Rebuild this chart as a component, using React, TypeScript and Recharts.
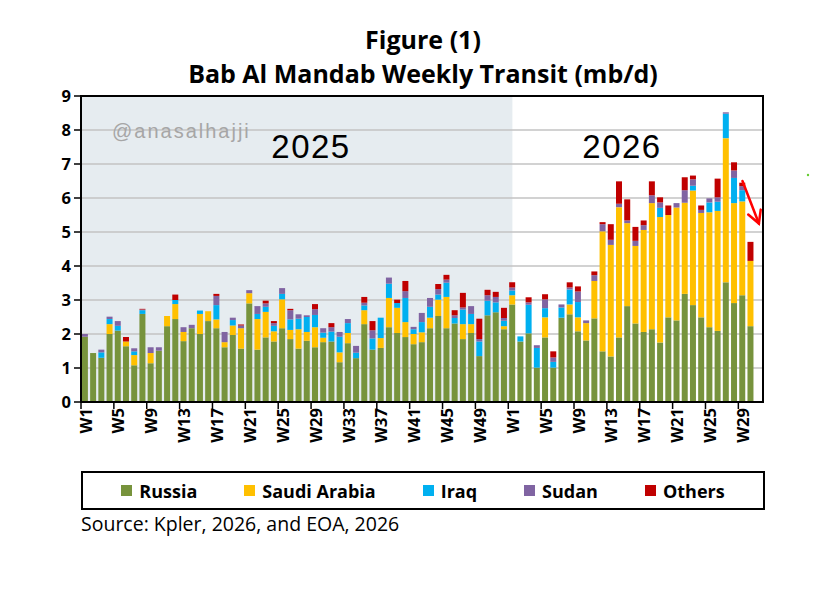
import React from "react";
import {
  BarChart,
  Bar,
  XAxis,
  YAxis,
  CartesianGrid,
  ReferenceArea,
  ReferenceLine,
} from "recharts";

// weeks: 2025 W1..W52, then 2026 W1..W31 (last slot empty)
const weeks2025 = Array.from({ length: 52 }, (_, i) => `2025-W${i + 1}`);
const weeks2026 = Array.from({ length: 31 }, (_, i) => `2026-W${i + 1}`);
const weeks = [...weeks2025, ...weeks2026];

// mb/d by origin
const russia = [
  1.92, 1.44, 1.3, 2.0, 2.1, 1.64, 1.08, 2.59, 1.14, 1.51, 2.23, 2.44, 1.79,
  2.17, 2.0, 2.38, 2.17, 1.61, 1.97, 1.57, 2.9, 1.54, 1.9, 1.78, 2.17, 1.85,
  1.57, 1.8, 1.61, 1.76, 1.78, 1.17, 1.73, 1.29, 2.29, 1.54, 1.59, 2.2, 2.03,
  1.91, 1.7, 1.76, 2.17, 2.53, 2.17, 2.31, 1.85, 2.03, 1.35, 2.55, 2.64, 2.14,
  2.87, 1.78, 2.02, 1.01, 1.9, 1.01, 2.48, 2.58, 2.08, 1.81, 2.46, 1.49, 1.34,
  1.9, 2.82, 2.31, 2.06, 2.14, 1.75, 2.49, 2.4, 3.18, 2.85, 2.49, 2.2, 2.09,
  3.52, 2.91, 3.14, 2.23, null,
];
const saudi = [
  0, 0, 0, 0.29, 0, 0.14, 0.3, 0, 0.3, 0, 0.3, 0.44, 0.27, 0, 0.59, 0.29, 0.26,
  0.15, 0.28, 0.6, 0.3, 0.9, 0.75, 0.3, 0.85, 0.27, 0.57, 0.26, 0.59, 0.13, 0,
  0.29, 0.3, 0, 0.41, 0, 0.29, 0.86, 0.74, 0.44, 0.3, 0.29, 0.31, 0.48, 0.92, 0,
  0.44, 0.26, 0, 0, 0, 0.09,
  0.27, 0, 0, 0, 0.59, 0, 0, 0.29, 0.41, 0.51, 1.1, 3.53, 3.28, 3.83, 2.44,
  2.28, 3.0, 3.71, 3.69, 3.01, 3.32, 2.68, 3.37, 3.07, 3.38, 3.53, 4.24, 2.94,
  2.76, 1.92, null,
];
const iraq = [
  0, 0, 0.16, 0.15, 0.14, 0, 0.11, 0.11, 0, 0, 0, 0.12, 0, 0, 0.1, 0, 0.42, 0,
  0.16, 0, 0, 0.15, 0.15, 0.16, 0.16, 0.31, 0.31, 0.44, 0.36, 0.15, 0.29, 0.46,
  0.29, 0.16, 0.14, 0.33, 0.6, 0.42, 0.14, 0.71, 0.14, 0.3, 0.32, 0.15, 0.42,
  0.16, 0.43, 0.3, 0.43, 0.43, 0.29, 0.16,
  0.14, 0.15, 0.84, 0.58, 0.27, 0.17, 0.3, 0.44, 0.45, 0, 0, 0, 0, 0, 0, 0, 0,
  0, 0.27, 0, 0, 0, 0.14, 0, 0.29, 0.27, 0.72, 0.74, 0.33, 0, null,
];
const sudan = [
  0.08, 0, 0.08, 0.07, 0.14, 0, 0.09, 0.02, 0.17, 0.1, 0, 0, 0.14, 0.1, 0, 0,
  0.27, 0.3, 0.07, 0.08, 0.09, 0.23, 0.1, 0.08, 0.17, 0.27, 0.13, 0.05, 0.17,
  0.13, 0.13, 0.14, 0.12, 0.2, 0.08, 0.24, 0, 0.18, 0, 0.2, 0.07, 0.27, 0.26,
  0.16, 0.09, 0.08, 0.06, 0.23, 0.07, 0.16, 0.16, 0.08,
  0.09, 0, 0.07, 0.08, 0.26, 0.13, 0.09, 0.06, 0.31, 0.08, 0.17, 0.21, 0.15,
  0.1, 0.08, 0.15, 0.14, 0.23, 0.16, 0, 0.13, 0.37, 0.19, 0.09, 0.12, 0.13,
  0.04, 0.22, 0.12, 0, null,
];
const others = [
  0, 0, 0, 0, 0, 0.13, 0, 0.02, 0, 0, 0, 0.16, 0, 0, 0, 0, 0.06, 0, 0, 0.03, 0,
  0, 0.08, 0.06, 0, 0.04, 0, 0, 0.15, 0, 0.12, 0, 0, 0, 0.17, 0.27, 0, 0, 0.1,
  0.3, 0, 0, 0, 0.15, 0.14, 0.15, 0.43, 0, 0.6, 0.16, 0.15, 0.3,
  0.15, 0, 0.15, 0, 0.15, 0.18, 0, 0.15, 0.15, 0, 0.11, 0.06, 0.46, 0.66, 0.62,
  0.41, 0.14, 0.41, 0.15, 0.28, 0, 0.38, 0.11, 0.13, 0, 0.55, 0, 0.24, 0.1,
  0.56, null,
];

const yTicks = [0, 1, 2, 3, 4, 5, 6, 7, 8, 9];

const series = [
  { key: "russia", name: "Russia", color: "#77933C" },
  { key: "saudi", name: "Saudi Arabia", color: "#FFC000" },
  { key: "iraq", name: "Iraq", color: "#00B0F0" },
  { key: "sudan", name: "Sudan", color: "#8064A2" },
  { key: "others", name: "Others", color: "#C00000" },
];

const data = weeks.map((week, i) => ({
  week,
  russia: russia[i],
  saudi: saudi[i],
  iraq: iraq[i],
  sudan: sudan[i],
  others: others[i],
}));

const W = 831;
const H = 460;
const M = { top: 96, right: 68, bottom: 3, left: 31 };
const Y_W = 50;
const X_H = 55;
const BAND = (W - M.left - Y_W - M.right) / weeks.length;

const SANS = "'Open Sans', 'Noto Sans', sans-serif";
const ARIAL = "'Liberation Sans', Arial, sans-serif";

const WeekTick = (props: any) => {
  const { x, y, payload } = props;
  const label = String(payload.value).split("-")[1];
  const lx = x - BAND / 2;
  return (
    <g>
      <line x1={lx} x2={lx} y1={y} y2={y + 7} stroke="#000" strokeWidth={1.5} />
      <text
        x={x}
        y={y + 6}
        transform={`rotate(-90 ${x} ${y + 6})`}
        textAnchor="end"
        dominantBaseline="central"
        fontFamily={SANS}
        fontWeight={700}
        fontSize={16.5}
        fill="#000"
      >
        {label}
      </text>
    </g>
  );
};

// shaded 2025 block runs to the middle of 2026 W1
const Shade = (p: any) => (
  <rect x={p.x} y={p.y} width={p.width + BAND / 2} height={p.height} fill="#E6ECF0" />
);

const Arrow = (p: any) => {
  const { x1, y1, x2, y2 } = p;
  const a = Math.atan2(y2 - y1, x2 - x1);
  const L = 14;
  const s = 0.5;
  const h1 = `${x2 - L * Math.cos(a - s)},${y2 - L * Math.sin(a - s)}`;
  const h2 = `${x2 - L * Math.cos(a + s)},${y2 - L * Math.sin(a + s)}`;
  return (
    <g stroke="#FF0000" strokeWidth={2.5} fill="none" strokeLinecap="round">
      <line x1={x1} y1={y1} x2={x2} y2={y2} />
      <polyline points={`${h1} ${x2},${y2} ${h2}`} />
    </g>
  );
};

export default function App() {
  return (
    <div
      style={{
        position: "absolute",
        left: 0,
        top: 0,
        width: 831,
        height: 598,
        background: "#fff",
      }}
    >
      <BarChart width={W} height={H} data={data} margin={M} barCategoryGap="11%">
        <ReferenceArea
          x1="2025-W1"
          x2="2025-W52"
          y1={0}
          y2={9}
          shape={Shade}
          zIndex={-200}
        />
        <CartesianGrid vertical={false} stroke="#C3C3C3" strokeWidth={1.5} />
        <XAxis
          dataKey="week"
          interval={3}
          tick={<WeekTick />}
          tickLine={false}
          tickSize={0}
          tickMargin={0}
          height={X_H}
          axisLine={{ stroke: "#000", strokeWidth: 2 }}
        />
        <YAxis
          width={Y_W}
          domain={[0, 9]}
          ticks={yTicks}
          interval={0}
          tickSize={7}
          tickMargin={3}
          axisLine={{ stroke: "#000", strokeWidth: 2 }}
          tickLine={{ stroke: "#000", strokeWidth: 1.5 }}
          tick={{ fontFamily: SANS, fontWeight: 700, fontSize: 16.5, fill: "#000" }}
        />
        {series.map((s) => (
          <Bar
            key={s.key}
            dataKey={s.key}
            name={s.name}
            stackId="a"
            fill={s.color}
            isAnimationActive={false}
          />
        ))}
        <ReferenceLine
          segment={[
            { x: "2026-W29", y: 6.5 },
            { x: "2026-W31", y: 5.25 },
          ]}
          shape={Arrow}
          zIndex={1000}
        />
        <ReferenceArea
          y1={0}
          y2={9}
          fill="none"
          fillOpacity={0}
          stroke="#000"
          strokeWidth={2}
          zIndex={1000}
        />
      </BarChart>

      <svg
        width={831}
        height={598}
        style={{ position: "absolute", left: 0, top: 0, pointerEvents: "none" }}
      >
        <text x={423} y={49} textAnchor="middle" fontFamily={SANS} fontWeight={700} fontSize={25}>
          Figure (1)
        </text>
        <text x={423} y={83} textAnchor="middle" fontFamily={SANS} fontWeight={700} fontSize={25}>
          Bab Al Mandab Weekly Transit (mb/d)
        </text>
        <text x={112} y={138} fontFamily={ARIAL} fontSize={20} letterSpacing={2} fill="#A6A6A6">
          @anasalhajji
        </text>
        <text x={311} y={158} textAnchor="middle" fontFamily={ARIAL} fontSize={33} letterSpacing={1.5}>
          2025
        </text>
        <text x={622} y={158} textAnchor="middle" fontFamily={ARIAL} fontSize={33} letterSpacing={1.5}>
          2026
        </text>
        <text x={81} y={531} fontFamily={SANS} fontSize={19.5}>
          Source: Kpler, 2026, and EOA, 2026
        </text>
        <circle cx={808} cy={175} r={1.2} fill="#66CC33" />
      </svg>

      <div
        style={{
          position: "absolute",
          left: 81,
          top: 471,
          width: 684,
          height: 39,
          boxSizing: "border-box",
          border: "2px solid #000",
          display: "flex",
          alignItems: "center",
          justifyContent: "center",
          gap: 47,
          fontFamily: SANS,
          fontWeight: 700,
          fontSize: 18,
        }}
      >
        {series.map((s) => (
          <div key={s.key} style={{ display: "flex", alignItems: "center", gap: 7 }}>
            <span style={{ width: 11, height: 11, background: s.color, display: "inline-block" }} />
            <span>{s.name}</span>
          </div>
        ))}
      </div>
    </div>
  );
}
